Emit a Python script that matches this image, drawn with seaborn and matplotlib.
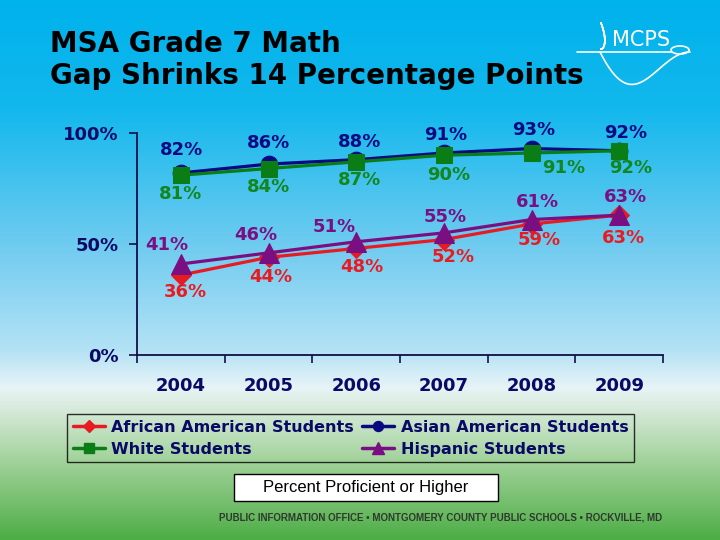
import numpy as np
import pandas as pd
import matplotlib
matplotlib.use('Agg')
import matplotlib.pyplot as plt
from matplotlib.lines import Line2D
from matplotlib.colors import LinearSegmentedColormap
import seaborn as sns

# Datos
years = ['2004', '2005', '2006', '2007', '2008', '2009']
african_american = [36, 44, 48, 52, 59, 63]
asian_american = [82, 86, 88, 91, 93, 92]
white = [81, 84, 87, 90, 91, 92]
hispanic = [41, 46, 51, 55, 61, 63]

title = 'MSA Grade 7 Math\nGap Shrinks 14 Percentage Points'
note = 'Percent Proficient or Higher'
footer = 'PUBLIC INFORMATION OFFICE \u2022 MONTGOMERY COUNTY PUBLIC SCHOOLS \u2022 ROCKVILLE, MD'

# Estilos por serie (orden de dibujo)
series = [
    ('Asian American Students', asian_american, '#0a0a80', '#0a0a80', 'o', 12),
    ('White Students', white, '#0b7d16', '#13861c', 's', 11),
    ('African American Students', african_american, '#e81b23', '#e81b23', 'D', 10),
    ('Hispanic Students', hispanic, '#7a0f82', '#7a0f82', '^', 15),
]

# desplazamiento de las etiquetas en pixeles (dx, dy hacia abajo)
label_offsets = {
    'Asian American Students': [(1, -23), (0, -21), (3, -18), (2, -18), (2, -19), (7, -18)],
    'White Students': [(0, 19), (0, 18), (3, 18), (5, 20), (32, 15), (12, 17)],
    'African American Students': [(5, 17), (2, 20), (6, 19), (9, 17), (8, 16), (4, 23)],
    'Hispanic Students': [(-14, -19), (-13, -18), (-22, -15), (1, -16), (6, -18), (6, -18)],
}

sns.set_style('ticks')
plt.rcParams['font.family'] = ['DejaVu Sans']

fig = plt.figure(figsize=(7.2, 5.4), dpi=100)

# Fondo degradado
bg = fig.add_axes([0, 0, 1, 1], zorder=-10)
stops = [
    (0.00, (0, 178, 236)),
    (0.20, (18, 184, 237)),
    (0.45, (110, 203, 240)),
    (0.65, (180, 226, 245)),
    (0.72, (232, 244, 247)),
    (0.745, (222, 237, 228)),
    (0.85, (165, 212, 158)),
    (1.00, (78, 174, 70)),
]
cmap = LinearSegmentedColormap.from_list('bg', [(p, np.array(c) / 255) for p, c in stops])
grad = np.linspace(0, 1, 540).reshape(-1, 1)
bg.imshow(grad, aspect='auto', cmap=cmap, extent=[0, 1, 0, 1])
bg.axis('off')

# Ejes principales
ax = fig.add_axes([137 / 720, 1 - 355 / 540, (663 - 137) / 720, (355 - 133) / 540])
ax.patch.set_alpha(0)

x = np.arange(len(years))
for name, vals, color, label_color, marker, ms in series:
    df = pd.DataFrame({'x': x, 'y': vals})
    sns.lineplot(data=df, x='x', y='y', ax=ax, color=color, linewidth=2.3,
                 marker=marker, markersize=ms, markeredgecolor=color, markerfacecolor=color,
                 clip_on=False, legend=False)
    for i, v in enumerate(vals):
        dx, dy = label_offsets[name][i]
        ax.annotate(f'{v}%', (x[i], v), xytext=(dx, -dy), textcoords='offset pixels',
                    ha='center', va='center', fontsize=13, fontweight='bold',
                    color=label_color)

ax.set_xlim(-0.5, len(years) - 0.5)
ax.set_ylim(0, 100)
ax.set_yticks([0, 50, 100])
ax.set_yticklabels(['0%', '50%', '100%'])
ax.set_xticks(x)
ax.set_xticklabels(years)
ax.set_xticks(np.arange(-0.5, len(years)), minor=True)
ax.set_xlabel('')
ax.set_ylabel('')
ax.tick_params(axis='x', which='major', length=0, pad=16, labelsize=13, labelcolor='#0a0a66')
ax.tick_params(axis='x', which='minor', length=6, width=1.2, color='#10104a', direction='out')
ax.tick_params(axis='y', length=6, width=1.2, color='#10104a', pad=7, labelsize=13,
               labelcolor='#0a0a66')
for lbl in ax.get_xticklabels() + ax.get_yticklabels():
    lbl.set_fontweight('bold')
sns.despine(ax=ax)
for s in ['left', 'bottom']:
    ax.spines[s].set_color('#10104a')
    ax.spines[s].set_linewidth(1.3)

# Leyenda
legend_order = ['African American Students', 'White Students',
                'Asian American Students', 'Hispanic Students']
styles = {s[0]: s for s in series}
handles = []
for name in legend_order:
    _, _, color, _, marker, ms = styles[name]
    handles.append(Line2D([0], [0], color=color, linewidth=2.5, marker=marker,
                          markersize=ms * 0.6, markerfacecolor=color, markeredgecolor=color))
leg = fig.legend(handles, legend_order, ncol=2, loc='upper left',
                 bbox_to_anchor=(67 / 720, 1 - 414 / 540),
                 frameon=True, fancybox=False, handlelength=2.0, columnspacing=0.55,
                 handletextpad=0.4, borderpad=0.35, labelspacing=0.45, borderaxespad=0,
                 prop={'weight': 'bold', 'size': 11.5})
leg.get_frame().set_edgecolor('black')
leg.get_frame().set_facecolor('none')
leg.get_frame().set_linewidth(1)
for t in leg.get_texts():
    t.set_color('#0a0a66')

# Caja de nota
fig.patches.append(plt.Rectangle((234 / 720, 1 - 501 / 540), 264 / 720, 27 / 540,
                                 transform=fig.transFigure, facecolor='white',
                                 edgecolor='black', linewidth=1, zorder=0))
fig.text(366 / 720, 1 - 487.5 / 540, note, ha='center', va='center', fontsize=12,
         family='Liberation Sans', color='black', zorder=5)

# Pie
fig.text(441 / 720, 1 - 518 / 540, footer, ha='center', va='center', fontsize=7,
         fontweight='bold', family='Liberation Sans', color='#2e3a2e')

# Titulo
fig.text(50 / 720, 1 - 60 / 540, title, ha='left', va='center', fontsize=20,
         fontweight='bold', color='black', linespacing=1.15)

# Logo MCPS
fig.text(612 / 720, 1 - 40 / 540, 'MCPS', ha='left', va='center', fontsize=15,
         color='white', family='DejaVu Sans')
t = np.linspace(0, 1, 50)
fig.add_artist(Line2D([577 / 720, 672 / 720], [1 - 52 / 540, 1 - 52 / 540],
                      transform=fig.transFigure, color='white', linewidth=1.2))
sw_x = 600 + 90 * t
sw_y = 52 + 28 * np.sin(np.pi * t) * (1 - t) * 2
fig.add_artist(Line2D(sw_x / 720, 1 - sw_y / 540, transform=fig.transFigure,
                      color='white', linewidth=1.2))
loop = np.linspace(0, 2 * np.pi, 60)
fig.add_artist(Line2D((680 + 9 * np.cos(loop)) / 720, 1 - (50 + 4 * np.sin(loop)) / 540,
                      transform=fig.transFigure, color='white', linewidth=1.2))
fig.add_artist(Line2D((601 + 5 * np.sin(loop) * np.cos(loop / 2)) / 720,
                      1 - (36 + 13 * np.cos(loop)) / 540,
                      transform=fig.transFigure, color='white', linewidth=1.2))

fig.savefig('out.png', dpi=100)
